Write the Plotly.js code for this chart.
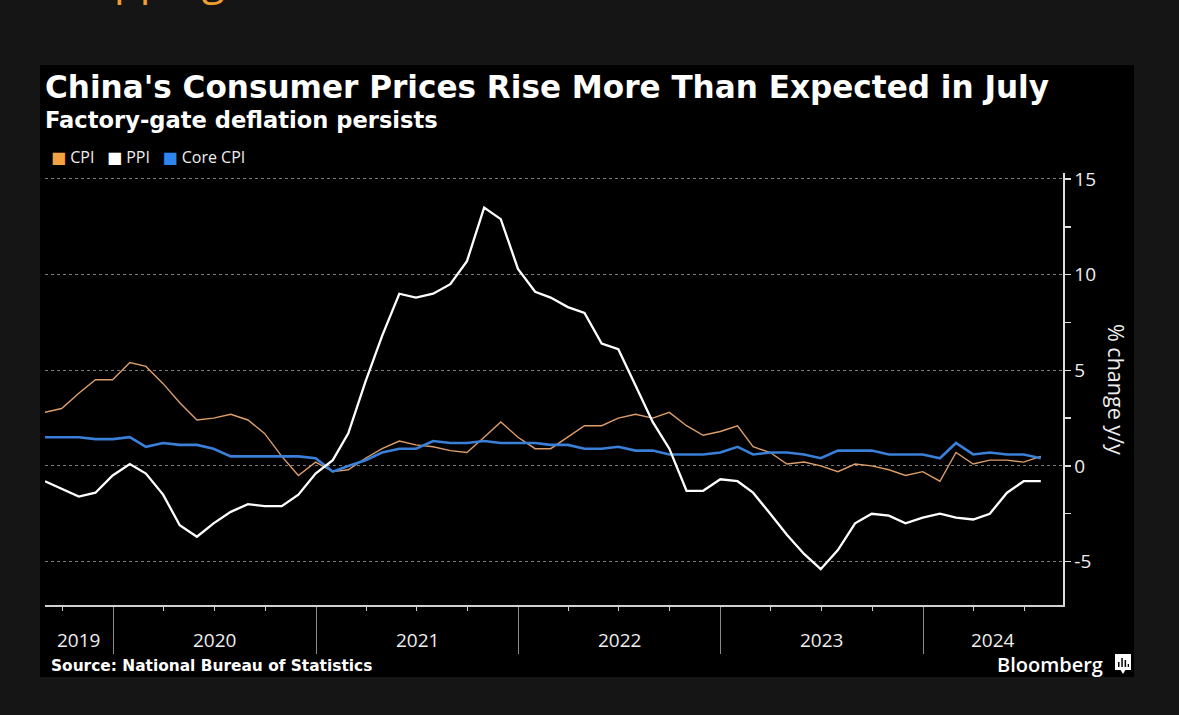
<!DOCTYPE html>
<html><head><meta charset="utf-8">
<script src="https://cdn.plot.ly/plotly-3.0.1.min.js"></script>
<style>html,body{margin:0;padding:0;background:#151515;overflow:hidden}#chart{width:1179px;height:715px}</style>
</head><body><div id="chart"></div>
<script>
// ---- data (monthly, y/y %) ----
const startMonth = '2019-08';
const cpi = [2.8,3.0,3.8,4.5,4.5,
  5.4,5.2,4.3,3.3,2.4,2.5,2.7,2.4,1.7,0.5,-0.5,0.2,
  -0.3,-0.2,0.4,0.9,1.3,1.1,1.0,0.8,0.7,1.5,2.3,1.5,
  0.9,0.9,1.5,2.1,2.1,2.5,2.7,2.5,2.8,2.1,1.6,1.8,
  2.1,1.0,0.7,0.1,0.2,0.0,-0.3,0.1,0.0,-0.2,-0.5,-0.3,
  -0.8,0.7,0.1,0.3,0.3,0.2,0.5];
const ppi = [-0.8,-1.2,-1.6,-1.4,-0.5,
  0.1,-0.4,-1.5,-3.1,-3.7,-3.0,-2.4,-2.0,-2.1,-2.1,-1.5,-0.4,
  0.3,1.7,4.4,6.8,9.0,8.8,9.0,9.5,10.7,13.5,12.9,10.3,
  9.1,8.8,8.3,8.0,6.4,6.1,4.2,2.3,0.9,-1.3,-1.3,-0.7,
  -0.8,-1.4,-2.5,-3.6,-4.6,-5.4,-4.4,-3.0,-2.5,-2.6,-3.0,-2.7,
  -2.5,-2.7,-2.8,-2.5,-1.4,-0.8,-0.8];
const coreCpi = [1.5,1.5,1.5,1.4,1.4,
  1.5,1.0,1.2,1.1,1.1,0.9,0.5,0.5,0.5,0.5,0.5,0.4,
  -0.3,0.0,0.3,0.7,0.9,0.9,1.3,1.2,1.2,1.3,1.2,1.2,
  1.2,1.1,1.1,0.9,0.9,1.0,0.8,0.8,0.6,0.6,0.6,0.7,
  1.0,0.6,0.7,0.7,0.6,0.4,0.8,0.8,0.8,0.6,0.6,0.6,
  0.4,1.2,0.6,0.7,0.6,0.6,0.4];
const seriesNames = ['CPI','PPI','Core CPI'];
const seriesColors = ['#f4a244','#ffffff','#2f86ee'];
const yearLabels = [2019,2020,2021,2022,2023,2024];
const yTicks = [-5,0,5,10,15];

const titleText = "China's Consumer Prices Rise More Than Expected in July";
const subtitleText = 'Factory-gate deflation persists';
const yTitleText = '% change y/y';
const sourceText = 'Source: National Bureau of Statistics';

// ---- helpers ----
function monthEnd(i){
  const [y,m] = startMonth.split('-').map(Number);
  return new Date(Date.UTC(y, m-1+i+1, 0)).toISOString().slice(0,10);
}
const dates = cpi.map((_,i)=>monthEnd(i));
const xStart = '2019-08-31', xEnd = '2024-09-09';

// plot-area pixel frame
const L=45, R=1063, T=173, B=605;
const px = x => (x-L)/(R-L);
const py = y => (B-y)/(B-T);

const tickFont = {family:'Open Sans, DejaVu Sans, sans-serif', size:19, color:'#eeeeee'};

const traces = [
  {x:dates, y:cpi, name:seriesNames[0], type:'scatter', mode:'lines',
   line:{color:'#dc9e6a', width:1.4}},
  {x:dates, y:coreCpi, name:seriesNames[2], type:'scatter', mode:'lines',
   line:{color:'#3a7fd8', width:2.6}},
  {x:dates, y:ppi, name:seriesNames[1], type:'scatter', mode:'lines',
   line:{color:'#ffffff', width:2.3}}
];

// year labels centred in visible part of each year
const t0 = Date.parse(xStart), t1 = Date.parse(xEnd);
const yearAnn = yearLabels.map(yr=>{
  const a = Math.max(Date.UTC(yr,0,1), t0), b = Math.min(Date.UTC(yr+1,0,1), t1);
  return {x:new Date((a+b)/2).toISOString().slice(0,10), xref:'x', y:py(640), yref:'paper',
    text:String(yr), showarrow:false, xanchor:'center', yanchor:'middle', font:tickFont};
});

const legendText = seriesNames.map((n,i)=>
  '<span style="color:'+seriesColors[i]+'">■</span> '+n).join('\u00a0\u00a0\u00a0');

const annotations = [
  {x:px(112), y:py(-22), xref:'paper', yref:'paper', text:'pping', showarrow:false,
   xanchor:'left', yanchor:'middle', font:{family:'Open Sans', size:42, color:'#f0a030'}},
  {x:px(43), y:py(120), xref:'paper', yref:'paper', text:subtitleText, showarrow:false,
   xanchor:'left', yanchor:'middle', font:{family:'DejaVu Sans', size:22.6, color:'#ffffff', weight:'bold'}},
  {x:px(49), y:py(157), xref:'paper', yref:'paper', text:legendText, showarrow:false,
   xanchor:'left', yanchor:'middle', font:{family:'Open Sans, DejaVu Sans', size:16, color:'#eeeeee'}},
  {x:px(1117), y:py(389), xref:'paper', yref:'paper', text:yTitleText, showarrow:false,
   textangle:90, xanchor:'center', yanchor:'middle', font:{family:'Open Sans', size:21.5, color:'#eeeeee'}},
  {x:px(49), y:py(666), xref:'paper', yref:'paper', text:sourceText, showarrow:false,
   xanchor:'left', yanchor:'middle', font:{family:'DejaVu Sans', size:15.4, color:'#ffffff', weight:'bold'}},
  {x:px(1105), y:py(664), xref:'paper', yref:'paper', text:'Bloomberg', showarrow:false,
   xanchor:'right', yanchor:'middle', font:{family:'Open Sans', size:20, color:'#ffffff', weight:600}}
].concat(yearAnn);

const shapes = [
  {type:'rect', xref:'paper', yref:'paper', x0:px(40), x1:px(1134), y0:py(677), y1:py(65),
   fillcolor:'#000000', line:{width:0}, layer:'below'},
  // Bloomberg mark
  {type:'rect', xref:'paper', yref:'paper', x0:px(1115), x1:px(1131), y0:py(670), y1:py(654),
   fillcolor:'#ffffff', line:{width:0}, layer:'above'},
  {type:'path', xref:'paper', yref:'paper', layer:'above', fillcolor:'#ffffff', line:{width:0},
   path:'M '+px(1120)+' '+py(669)+' L '+px(1126)+' '+py(669)+' L '+px(1123)+' '+py(674)+' Z'},
  {type:'rect', xref:'paper', yref:'paper', x0:px(1118), x1:px(1119.5), y0:py(667), y1:py(662), fillcolor:'#000', line:{width:0}, layer:'above'},
  {type:'rect', xref:'paper', yref:'paper', x0:px(1121.3), x1:px(1122.8), y0:py(667), y1:py(658), fillcolor:'#000', line:{width:0}, layer:'above'},
  {type:'rect', xref:'paper', yref:'paper', x0:px(1124.6), x1:px(1126.1), y0:py(667), y1:py(660), fillcolor:'#000', line:{width:0}, layer:'above'},
  {type:'rect', xref:'paper', yref:'paper', x0:px(1127.7), x1:px(1129), y0:py(667), y1:py(664), fillcolor:'#000', line:{width:0}, layer:'above'}
];

const layout = {
  width:1179, height:715,
  paper_bgcolor:'#151515', plot_bgcolor:'#000000',
  margin:{l:L, r:1179-R, t:T, b:715-B, pad:0},
  showlegend:false,
  title:{text:titleText, x:0, xref:'paper', xanchor:'left', y:1-87/715, yref:'container', yanchor:'middle',
    font:{family:'DejaVu Sans', size:31.1, color:'#ffffff', weight:'bold'}},
  xaxis:{type:'date', range:[xStart, xEnd], showgrid:false, zeroline:false,
    showline:true, linecolor:'#d0d0d0', linewidth:1.5,
    ticks:'outside', tickmode:'linear', tick0:'2020-01-01', dtick:'M12',
    ticklen:47, tickwidth:1, tickcolor:'#8a8a8a', showticklabels:false,
    minor:{ticks:'outside', tickmode:'linear', tick0:'2019-01-01', dtick:'M3', ticklen:4, tickwidth:1, tickcolor:'#cfcfcf', showgrid:false},
    fixedrange:true},
  yaxis:{side:'right', range:[-7.27, 15.31], tickmode:'array', tickvals:yTicks, ticktext:yTicks.map(String),
    ticks:'outside', ticklen:6, tickwidth:1.5, tickcolor:'#dddddd',
    showline:true, linecolor:'#dddddd', linewidth:1.5,
    showgrid:true, gridcolor:'#7a7a7a', griddash:'dot', gridwidth:1, zeroline:false,
    tickfont:tickFont,
    minor:{ticks:'outside', tickmode:'linear', tick0:0, dtick:2.5, ticklen:6, tickwidth:1.5, tickcolor:'#dddddd', showgrid:false},
    fixedrange:true},
  annotations, shapes
};

Plotly.newPlot('chart', traces, layout, {displayModeBar:false, staticPlot:true});
</script></body></html>
